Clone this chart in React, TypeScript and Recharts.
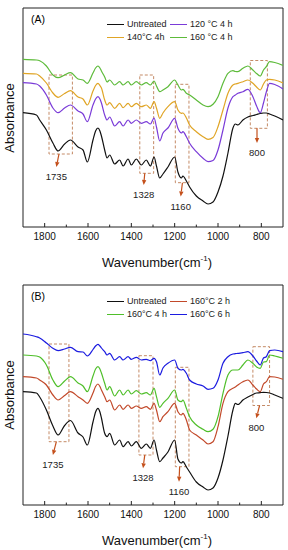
import React from 'react';
import { Line, LineChart, ReferenceArea, ReferenceLine, XAxis, YAxis } from 'recharts';

const FONT = 'Arial, "Liberation Sans", sans-serif';

// wavenumber grid (cm-1)
const wavenumbers = [
  1900, 1838, 1823, 1792, 1762, 1738, 1708, 1681, 1646, 1623, 1603, 1577, 1565, 1554, 1545, 1538,
  1523, 1512, 1500, 1477, 1454, 1438, 1415, 1400, 1377, 1354, 1331, 1312, 1295, 1284, 1269,
  1254, 1231, 1200, 1185, 1169, 1162, 1146, 1131, 1100, 1069, 1046, 1023, 1000, 977, 954, 931,
  920, 908, 885, 862, 839, 822, 805, 790, 777, 762, 738, 700
];

// panel (A): absorbance (offset, a.u.)
const untreatedA = [
  1.143, 1.12, 1.07, 0.97, 0.84, 0.76, 0.83, 0.87, 0.8, 0.77, 0.65, 0.87, 0.96, 0.99, 0.96, 0.91,
  0.77, 0.69, 0.72, 0.63, 0.67, 0.61, 0.68, 0.62, 0.68, 0.62, 0.67, 0.61, 0.7, 0.61, 0.49,
  0.53, 0.6, 0.7, 0.55, 0.49, 0.51, 0.46, 0.4, 0.31, 0.26, 0.23, 0.25, 0.35, 0.51, 0.74, 0.99,
  1.03, 1.02, 1.07, 1.1, 1.115, 1.125, 1.135, 1.14, 1.14, 1.13, 1.11, 1.07
];
const c120h4 = [
  1.443, 1.43, 1.41, 1.32, 1.19, 1.143, 1.19, 1.22, 1.16, 1.13, 1.053, 1.22, 1.28, 1.303, 1.28,
  1.24, 1.12, 1.07, 1.1, 1.01, 1.053, 1.01, 1.07, 1.037, 1.07, 1.037, 1.053, 1.03, 1.09, 1.0,
  0.86, 0.94, 0.99, 1.087, 0.987, 0.94, 0.953, 0.903, 0.837, 0.753, 0.687, 0.653, 0.665, 0.77,
  0.97, 1.19, 1.303, 1.32, 1.337, 1.353, 1.377, 1.303, 1.21, 1.143, 1.24, 1.35, 1.437, 1.425, 1.38
];
const c140h4 = [
  1.537, 1.53, 1.51, 1.44, 1.34, 1.297, 1.335, 1.363, 1.3, 1.28, 1.22, 1.36, 1.415, 1.437, 1.415,
  1.39, 1.27, 1.22, 1.243, 1.187, 1.237, 1.193, 1.237, 1.203, 1.237, 1.203, 1.22, 1.187, 1.253,
  1.19, 1.087, 1.14, 1.203, 1.253, 1.17, 1.137, 1.14, 1.09, 1.02, 0.953, 0.903, 0.877, 0.895,
  1.003, 1.17, 1.337, 1.42, 1.43, 1.437, 1.453, 1.47, 1.437, 1.4, 1.37, 1.43, 1.47, 1.477, 1.47, 1.44
];
const c160h4 = [
  1.677, 1.67, 1.663, 1.61, 1.52, 1.493, 1.52, 1.543, 1.48, 1.47, 1.437, 1.54, 1.59, 1.61, 1.59,
  1.56, 1.5, 1.45, 1.47, 1.42, 1.453, 1.42, 1.453, 1.42, 1.453, 1.42, 1.443, 1.42, 1.46, 1.41,
  1.353, 1.37, 1.403, 1.47, 1.42, 1.37, 1.377, 1.337, 1.32, 1.27, 1.22, 1.203, 1.227, 1.303,
  1.437, 1.537, 1.563, 1.555, 1.553, 1.587, 1.61, 1.57, 1.535, 1.51, 1.57, 1.603, 1.653, 1.645, 1.615
];

// panel (B)
const untreatedB = [
  1.133, 1.12, 1.08, 0.95, 0.79, 0.7, 0.795, 0.845, 0.72, 0.68, 0.6, 0.83, 0.93, 0.967, 0.93,
  0.87, 0.717, 0.683, 0.717, 0.6, 0.65, 0.583, 0.633, 0.59, 0.633, 0.567, 0.61, 0.567, 0.65,
  0.55, 0.433, 0.47, 0.53, 0.65, 0.46, 0.42, 0.433, 0.38, 0.33, 0.23, 0.18, 0.15, 0.17, 0.27,
  0.45, 0.69, 0.95, 1.017, 1.005, 1.05, 1.08, 1.105, 1.12, 1.123, 1.127, 1.125, 1.12, 1.1, 1.067
];
const c160h2 = [
  1.283, 1.27, 1.25, 1.2, 1.1, 1.05, 1.095, 1.133, 1.083, 1.05, 1.017, 1.12, 1.185, 1.21, 1.185,
  1.15, 1.083, 1.033, 1.05, 0.95, 1.0, 0.957, 1.0, 0.967, 0.99, 0.967, 0.983, 0.957, 1.017, 0.95,
  0.833, 0.883, 0.933, 1.017, 0.933, 0.9, 0.917, 0.85, 0.75, 0.7, 0.65, 0.61, 0.633, 0.783,
  1.017, 1.133, 1.167, 1.18, 1.2, 1.233, 1.25, 1.2, 1.16, 1.133, 1.21, 1.233, 1.283, 1.28, 1.257
];
const c160h4B = [
  1.5, 1.49, 1.48, 1.4, 1.25, 1.183, 1.24, 1.283, 1.22, 1.19, 1.133, 1.29, 1.36, 1.383, 1.36,
  1.32, 1.217, 1.15, 1.183, 1.09, 1.15, 1.1, 1.15, 1.11, 1.143, 1.11, 1.123, 1.1, 1.167, 1.083,
  0.977, 1.017, 1.067, 1.15, 1.05, 1.033, 1.05, 0.967, 0.883, 0.8, 0.757, 0.733, 0.757, 0.883,
  1.117, 1.3, 1.35, 1.35, 1.35, 1.4, 1.45, 1.417, 1.38, 1.367, 1.43, 1.433, 1.5, 1.49, 1.467
];
const c160h6 = [
  1.71, 1.683, 1.67, 1.62, 1.567, 1.543, 1.56, 1.577, 1.533, 1.53, 1.49, 1.555, 1.59, 1.607, 1.59,
  1.57, 1.533, 1.5, 1.517, 1.45, 1.483, 1.45, 1.483, 1.457, 1.477, 1.45, 1.457, 1.443, 1.467,
  1.433, 1.3, 1.37, 1.417, 1.45, 1.367, 1.35, 1.357, 1.317, 1.25, 1.21, 1.19, 1.157, 1.167, 1.25,
  1.417, 1.483, 1.51, 1.513, 1.517, 1.523, 1.533, 1.49, 1.44, 1.4, 1.47, 1.483, 1.543, 1.55, 1.533
];

const majorTicks = [1800, 1600, 1400, 1200, 1000, 800];
const minorTicks = [1700, 1500, 1300, 1100, 900];

type Series = { key: string; name: string; color: string; values: number[] };
type Box = { x1: number; x2: number; y1: number; y2: number };
type Arrow = { label: string; x1: number; y1: number; x2: number; y2: number };

const seriesA: Series[] = [
  { key: 'untreated', name: 'Untreated', color: '#111111', values: untreatedA },
  { key: 'c120', name: '120 °C 4 h', color: '#7a3bd8', values: c120h4 },
  { key: 'c140', name: '140°C 4h', color: '#e0a526', values: c140h4 },
  { key: 'c160', name: '160 °C 4 h', color: '#5dbb3a', values: c160h4 }
];
const seriesB: Series[] = [
  { key: 'untreated', name: 'Untreated', color: '#111111', values: untreatedB },
  { key: 'h2', name: '160°C 2 h', color: '#c2492a', values: c160h2 },
  { key: 'h4', name: '160°C 4 h', color: '#4fbf2a', values: c160h4B },
  { key: 'h6', name: '160°C 6 h', color: '#1c1ce0', values: c160h6 }
];

const boxesA: Box[] = [
  { x1: 1780, x2: 1672, y1: 0.73, y2: 1.52 },
  { x1: 1361, x2: 1297, y1: 0.537, y2: 1.52 },
  { x1: 1197, x2: 1134, y1: 0.443, y2: 1.427 },
  { x1: 851, x2: 772, y1: 0.987, y2: 1.665 }
];
const arrowsA: Arrow[] = [
  { label: '1735', x1: 1734, y1: 0.73, x2: 1746, y2: 0.6 },
  { label: '1328', x1: 1338, y1: 0.537, x2: 1343, y2: 0.42 },
  { label: '1160', x1: 1164, y1: 0.443, x2: 1172, y2: 0.305 },
  { label: '800', x1: 820, y1: 0.987, x2: 820, y2: 0.84 }
];
const boxesB: Box[] = [
  { x1: 1780, x2: 1688, y1: 0.633, y2: 1.61 },
  { x1: 1365, x2: 1300, y1: 0.5, y2: 1.493 },
  { x1: 1197, x2: 1134, y1: 0.383, y2: 1.377 },
  { x1: 839, x2: 762, y1: 0.995, y2: 1.583 }
];
const arrowsB: Arrow[] = [
  { label: '1735', x1: 1746, y1: 0.633, x2: 1762, y2: 0.5 },
  { label: '1328', x1: 1338, y1: 0.5, x2: 1346, y2: 0.367 },
  { label: '1160', x1: 1177, y1: 0.383, x2: 1180, y2: 0.233 },
  { label: '800', x1: 808, y1: 0.995, x2: 823, y2: 0.867 }
];

const ARROW = '#c4501c';
const BOX = '#c48a66';

const arrowShape = (label: string) => (props: any) => {
  const { x1, y1, x2, y2 } = props;
  const ang = Math.atan2(y2 - y1, x2 - x1);
  const len = 5;
  const w = 2.2;
  const bx = x2 - len * Math.cos(ang);
  const by = y2 - len * Math.sin(ang);
  const nx = -Math.sin(ang) * w;
  const ny = Math.cos(ang) * w;
  return (
    <g>
      <line x1={x1} y1={y1} x2={bx} y2={by} stroke={ARROW} strokeWidth={1.2} />
      <polygon points={`${x2},${y2} ${bx + nx},${by + ny} ${bx - nx},${by - ny}`} fill={ARROW} />
      <text x={x2} y={y2 + 13} textAnchor="middle" fontSize={9.5} fontFamily={FONT} fill="#222">
        {label}
      </text>
    </g>
  );
};

function Panel({
  top,
  height,
  yMax,
  tag,
  series,
  boxes,
  arrows
}: {
  top: number;
  height: number;
  yMax: number;
  tag: string;
  series: Series[];
  boxes: Box[];
  arrows: Arrow[];
}) {
  const data = wavenumbers.map((wn, i) => {
    const row: Record<string, number> = { wn };
    series.forEach((s) => (row[s.key] = s.values[i]));
    return row;
  });
  const plotCenter = (8 + (height - 48)) / 2;

  return (
    <div style={{ position: 'absolute', left: 0, top, width: 288, height }}>
      <LineChart width={288} height={height} data={data} margin={{ top: 8, right: 5, bottom: 18, left: 23 }}>
        <XAxis
          type="number"
          dataKey="wn"
          domain={[700, 1900]}
          reversed
          allowDataOverflow
          ticks={majorTicks}
          interval={0}
          tickLine={false}
          axisLine={false}
          tickSize={4}
          tickMargin={2}
          tick={{ fontSize: 10, fill: '#111', fontFamily: FONT }}
        />
        <YAxis hide type="number" domain={[0, yMax]} allowDataOverflow />
        {boxes.map((b, i) => (
          <ReferenceArea
            key={'b' + i}
            x1={b.x1}
            x2={b.x2}
            y1={b.y1}
            y2={b.y2}
            fill="none"
            stroke={BOX}
            strokeWidth={1}
            strokeDasharray="3 2"
            ifOverflow="visible"
          />
        ))}
        {series.map((s) => (
          <Line
            key={s.key}
            type="monotone"
            dataKey={s.key}
            stroke={s.color}
            strokeWidth={1.2}
            dot={false}
            isAnimationActive={false}
          />
        ))}
        {arrows.map((a, i) => (
          <ReferenceLine
            key={'a' + i}
            segment={[
              { x: a.x1, y: a.y1 },
              { x: a.x2, y: a.y2 }
            ]}
            ifOverflow="visible"
            shape={arrowShape(a.label)}
          />
        ))}
        {majorTicks.map((t) => (
          <ReferenceLine key={'M' + t} segment={[{ x: t, y: 0 }, { x: t, y: 0.04 }]} stroke="#222" />
        ))}
        {minorTicks.map((t) => (
          <ReferenceLine key={'m' + t} segment={[{ x: t, y: 0 }, { x: t, y: 0.024 }]} stroke="#222" />
        ))}
        <ReferenceArea
          x1={700}
          x2={1900}
          y1={0}
          y2={yMax}
          fill="none"
          stroke="#222"
          strokeWidth={1}
          ifOverflow="visible"
        />
      </LineChart>

      <div style={{ position: 'absolute', left: 38, top: 19, transform: 'translate(-50%,-50%)', fontSize: 10.5 }}>
        {tag}
      </div>

      {series.map((s, i) => {
        const col = i % 2;
        const row = Math.floor(i / 2);
        const lx = col === 0 ? 107 : 170;
        const y = row === 0 ? 24 : 37;
        return (
          <div key={'lg' + s.key}>
            <div style={{ position: 'absolute', left: lx, top: y, width: 17, height: 1, background: s.color }} />
            <div
              style={{
                position: 'absolute',
                left: lx + 20,
                top: y - 5,
                lineHeight: '11px',
                fontSize: 9,
                whiteSpace: 'nowrap',
                color: '#222'
              }}
            >
              {s.name}
            </div>
          </div>
        );
      })}

      <div
        style={{
          position: 'absolute',
          left: 9,
          top: plotCenter,
          transform: 'translate(-50%,-50%) rotate(-90deg)',
          fontSize: 13,
          whiteSpace: 'nowrap',
          color: '#111'
        }}
      >
        Absorbance
      </div>
      <div
        style={{
          position: 'absolute',
          left: 157,
          top: height - 13,
          transform: 'translate(-50%,-50%)',
          fontSize: 13,
          whiteSpace: 'nowrap',
          color: '#111'
        }}
      >
        Wavenumber(cm<sup style={{ fontSize: 8, verticalAlign: 'super', lineHeight: 0 }}>-1</sup>)
      </div>
    </div>
  );
}

export default function App() {
  return (
    <div style={{ position: 'absolute', left: 0, top: 0, width: 288, height: 550, fontFamily: FONT, background: '#fff' }}>
      <Panel top={0} height={275} yMax={2.19} tag="(A)" series={seriesA} boxes={boxesA} arrows={arrowsA} />
      <Panel top={277} height={276} yMax={2.2} tag="(B)" series={seriesB} boxes={boxesB} arrows={arrowsB} />
    </div>
  );
}
